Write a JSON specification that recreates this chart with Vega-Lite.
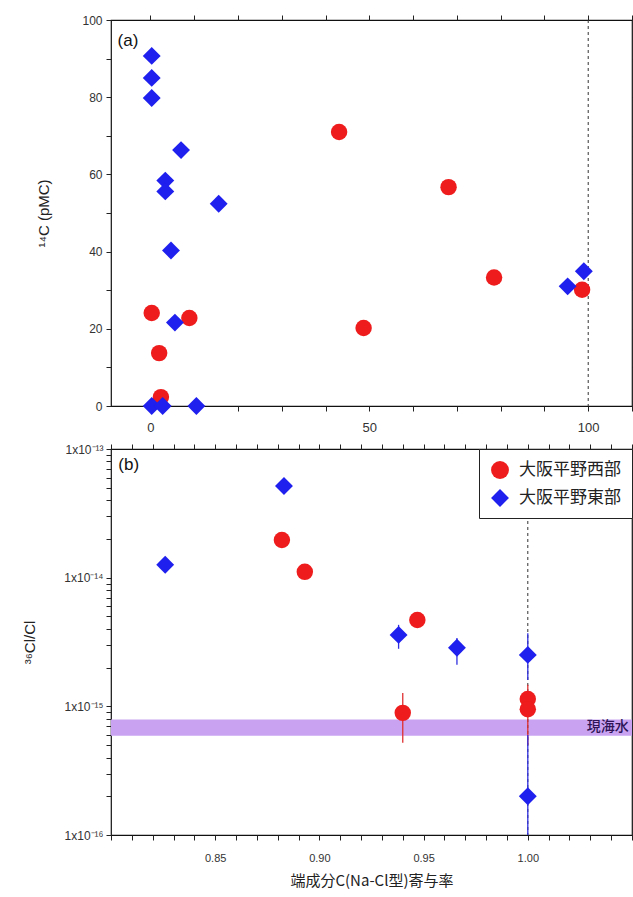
{
  "$schema": "https://vega.github.io/schema/vega-lite/v6.json",
  "background": "white",
  "padding": {"left": 22, "top": 13, "right": 0, "bottom": 5},
  "bounds": "flush",
  "spacing": 43,
  "config": {
    "view": {"stroke": "#111", "strokeWidth": 1.2},
    "font": "Liberation Sans",
    "axis": {"domain": false, "grid": false, "tickColor": "#222", "tickSize": 5, "labelColor": "#333", "labelFont": "Liberation Sans", "labelFontSize": 12, "titleFont": "Liberation Sans", "titleFontSize": 15, "titleFontWeight": "normal", "titleColor": "#222"}
  },
  "resolve": {"scale": {"color": "independent", "shape": "independent"}, "legend": {"color": "independent", "shape": "independent"}},
  "vconcat": [
    {
      "width": 521,
      "height": 386,
      "layer": [
        {
          "data": {"values": [{}]},
          "mark": {"type": "rule", "strokeDash": [3, 3], "color": "#333", "strokeWidth": 1},
          "encoding": {
            "x": {"datum": 100, "type": "quantitative", "scale": {"domain": [-9, 110], "nice": false, "zero": false},
              "axis": {"orient": "top", "labels": false, "title": null, "values": [-0.0001, 10, 20, 30, 40, 50, 60, 70, 80, 90, 100, 110]}}
          }
        },
        {
          "data": {"values": [{}]},
          "mark": {"type": "text", "text": "(a)", "align": "left", "baseline": "middle", "fontSize": 17, "color": "#111"},
          "encoding": {
            "x": {"datum": -7.5, "type": "quantitative", "axis": null},
            "y": {"datum": 94.5, "type": "quantitative", "scale": {"domain": [0, 100], "nice": false},
              "axis": {"orient": "right", "labels": false, "title": null, "values": [0, 10, 20, 30, 40, 50, 60, 70, 80, 90, 100]}}
          }
        },
        {
          "data": {"values": [
            {"x": 0.3, "c14": 24.1, "region": "大阪平野西部"},
            {"x": 2.0, "c14": 13.7, "region": "大阪平野西部"},
            {"x": 2.4, "c14": 2.3, "region": "大阪平野西部"},
            {"x": 8.9, "c14": 22.8, "region": "大阪平野西部"},
            {"x": 43.1, "c14": 71.0, "region": "大阪平野西部"},
            {"x": 48.7, "c14": 20.2, "region": "大阪平野西部"},
            {"x": 68.1, "c14": 56.7, "region": "大阪平野西部"},
            {"x": 78.5, "c14": 33.3, "region": "大阪平野西部"},
            {"x": 98.6, "c14": 30.1, "region": "大阪平野西部"},
            {"x": 0.3, "c14": 90.7, "region": "大阪平野東部"},
            {"x": 0.3, "c14": 85.0, "region": "大阪平野東部"},
            {"x": 0.3, "c14": 79.8, "region": "大阪平野東部"},
            {"x": 7.0, "c14": 66.3, "region": "大阪平野東部"},
            {"x": 3.4, "c14": 58.4, "region": "大阪平野東部"},
            {"x": 3.4, "c14": 55.6, "region": "大阪平野東部"},
            {"x": 15.6, "c14": 52.4, "region": "大阪平野東部"},
            {"x": 4.7, "c14": 40.3, "region": "大阪平野東部"},
            {"x": 5.6, "c14": 21.6, "region": "大阪平野東部"},
            {"x": 0.3, "c14": 0, "region": "大阪平野東部"},
            {"x": 2.8, "c14": 0, "region": "大阪平野東部"},
            {"x": 10.5, "c14": 0, "region": "大阪平野東部"},
            {"x": 95.3, "c14": 31.0, "region": "大阪平野東部"},
            {"x": 99.0, "c14": 34.9, "region": "大阪平野東部"}
          ]},
          "mark": {"type": "point", "filled": true, "opacity": 1},
          "encoding": {
            "x": {"field": "x", "type": "quantitative", "scale": {"domain": [-9, 110], "nice": false, "zero": false},
              "axis": {"orient": "bottom", "title": null, "values": [-0.0001, 10, 20, 30, 40, 50, 60, 70, 80, 90, 100, 110], "labelExpr": "abs(datum.value) < 0.01 ? '0' : (datum.value == 50 || datum.value == 100 ? datum.label : '')", "labelFontSize": 13, "labelPadding": 10}},
            "y": {"field": "c14", "type": "quantitative", "scale": {"domain": [0, 100], "nice": false},
              "axis": {"orient": "left", "title": "¹⁴C (pMC)", "values": [0, 10, 20, 30, 40, 50, 60, 70, 80, 90, 100], "labelExpr": "datum.value % 20 == 0 ? datum.label : ''", "labelPadding": 4, "titlePadding": 30}},
            "color": {"field": "region", "type": "nominal", "scale": {"domain": ["大阪平野西部", "大阪平野東部"], "range": ["#ee1c1c", "#1f1fee"]}, "legend": null},
            "shape": {"field": "region", "type": "nominal", "scale": {"domain": ["大阪平野西部", "大阪平野東部"], "range": ["circle", "diamond"]}, "legend": null},
            "size": {"field": "region", "type": "nominal", "scale": {"domain": ["大阪平野西部", "大阪平野東部"], "range": [270, 320]}, "legend": null}
          }
        }
      ],
      "resolve": {"axis": {"x": "independent", "y": "independent"}}
    },
    {
      "width": 521,
      "height": 386,
      "layer": [
        {
          "data": {"values": [{}]},
          "mark": {"type": "rect", "color": "#c9a3f2", "opacity": 1},
          "encoding": {
            "y": {"datum": 7.9e-16, "type": "quantitative", "scale": {"type": "log", "domain": [1e-16, 1e-13], "nice": false}, "axis": null},
            "y2": {"datum": 5.9e-16}
          }
        },
        {
          "data": {"values": [{}]},
          "mark": {"type": "text", "text": "現海水", "align": "right", "baseline": "middle", "fontSize": 14, "fontWeight": 500, "font": "Noto Sans CJK JP", "color": "#2e1456"},
          "encoding": {
            "x": {"datum": 1.0485, "type": "quantitative", "axis": null},
            "y": {"datum": 6.85e-16, "type": "quantitative", "axis": null}
          }
        },
        {
          "data": {"values": [{}]},
          "mark": {"type": "rule", "strokeDash": [3, 3], "color": "#333", "strokeWidth": 1},
          "encoding": {
            "x": {"datum": 1.0, "type": "quantitative", "scale": {"domain": [0.8, 1.05], "nice": false, "zero": false},
              "axis": {"orient": "top", "labels": false, "title": null, "values": [0.8, 0.81, 0.82, 0.83, 0.84, 0.85, 0.86, 0.87, 0.88, 0.89, 0.9, 0.91, 0.92, 0.93, 0.94, 0.95, 0.96, 0.97, 0.98, 0.99, 1.0, 1.01, 1.02, 1.03, 1.04, 1.05]}}
          }
        },
        {
          "data": {"values": [
            {"x": 0.940, "lo": 5.2e-16, "hi": 1.27e-15, "region": "大阪平野西部"},
            {"x": 1.000, "lo": 5.0e-16, "hi": 1.47e-15, "region": "大阪平野西部"},
            {"x": 0.938, "lo": 2.8e-15, "hi": 4.3e-15, "region": "大阪平野東部"},
            {"x": 0.966, "lo": 2.1e-15, "hi": 3.4e-15, "region": "大阪平野東部"},
            {"x": 1.000, "lo": 1.6e-15, "hi": 3.7e-15, "region": "大阪平野東部"},
            {"x": 1.000, "lo": 1.0e-16, "hi": 6.0e-16, "region": "大阪平野東部"}
          ]},
          "transform": [{"filter": "datum.region == '大阪平野西部'"}],
          "mark": {"type": "rule", "color": "#e03030", "strokeWidth": 1.3},
          "encoding": {
            "x": {"field": "x", "type": "quantitative", "axis": null},
            "y": {"field": "lo", "type": "quantitative", "axis": null},
            "y2": {"field": "hi"}
          }
        },
        {
          "data": {"values": [
            {"x": 0.940, "lo": 5.2e-16, "hi": 1.27e-15, "region": "大阪平野西部"},
            {"x": 1.000, "lo": 5.0e-16, "hi": 1.47e-15, "region": "大阪平野西部"},
            {"x": 0.938, "lo": 2.8e-15, "hi": 4.3e-15, "region": "大阪平野東部"},
            {"x": 0.966, "lo": 2.1e-15, "hi": 3.4e-15, "region": "大阪平野東部"},
            {"x": 1.000, "lo": 1.6e-15, "hi": 3.7e-15, "region": "大阪平野東部"},
            {"x": 1.000, "lo": 1.0e-16, "hi": 6.0e-16, "region": "大阪平野東部"}
          ]},
          "transform": [{"filter": "datum.region == '大阪平野東部'"}],
          "mark": {"type": "rule", "color": "#3030e0", "strokeWidth": 1.3},
          "encoding": {
            "x": {"field": "x", "type": "quantitative", "axis": null},
            "y": {"field": "lo", "type": "quantitative", "axis": null},
            "y2": {"field": "hi"}
          }
        },
        {
          "data": {"values": [
            {"x": 0.882, "ratio": 1.96e-14, "region": "大阪平野西部"},
            {"x": 0.893, "ratio": 1.11e-14, "region": "大阪平野西部"},
            {"x": 0.947, "ratio": 4.69e-15, "region": "大阪平野西部"},
            {"x": 0.940, "ratio": 8.9e-16, "region": "大阪平野西部"},
            {"x": 1.000, "ratio": 1.14e-15, "region": "大阪平野西部"},
            {"x": 1.000, "ratio": 9.5e-16, "region": "大阪平野西部"},
            {"x": 0.826, "ratio": 1.26e-14, "region": "大阪平野東部"},
            {"x": 0.883, "ratio": 5.16e-14, "region": "大阪平野東部"},
            {"x": 0.938, "ratio": 3.59e-15, "region": "大阪平野東部"},
            {"x": 0.966, "ratio": 2.85e-15, "region": "大阪平野東部"},
            {"x": 1.000, "ratio": 2.51e-15, "region": "大阪平野東部"},
            {"x": 1.000, "ratio": 2.0e-16, "region": "大阪平野東部"}
          ]},
          "mark": {"type": "point", "filled": true, "opacity": 1},
          "encoding": {
            "x": {"field": "x", "type": "quantitative", "scale": {"domain": [0.8, 1.05], "nice": false, "zero": false},
              "axis": {"orient": "bottom", "title": "端成分C(Na-Cl型)寄与率", "titleFont": "Noto Sans CJK JP", "titleFontSize": 15, "titlePadding": 10, "values": [0.8, 0.81, 0.82, 0.83, 0.84, 0.85, 0.86, 0.87, 0.88, 0.89, 0.9, 0.91, 0.92, 0.93, 0.94, 0.95, 0.96, 0.97, 0.98, 0.99, 1.0, 1.01, 1.02, 1.03, 1.04, 1.05], "format": ".2f", "labelExpr": "(abs(datum.value - 0.85) < 0.001 || abs(datum.value - 0.9) < 0.001 || abs(datum.value - 0.95) < 0.001 || abs(datum.value - 1.0) < 0.001) ? datum.label : ''", "labelFontSize": 11, "labelPadding": 12}},
            "y": {"field": "ratio", "type": "quantitative", "scale": {"type": "log", "domain": [1e-16, 1e-13], "nice": false},
              "axis": {"orient": "left", "title": "³⁶Cl/Cl", "titlePadding": 26, "labelFontSize": 12, "labelPadding": 3,
                "values": [1e-16, 2e-16, 3e-16, 4e-16, 5e-16, 6e-16, 7e-16, 8e-16, 9e-16, 1e-15, 2e-15, 3e-15, 4e-15, 5e-15, 6e-15, 7e-15, 8e-15, 9e-15, 1e-14, 2e-14, 3e-14, 4e-14, 5e-14, 6e-14, 7e-14, 8e-14, 9e-14, 1e-13],
                "labelExpr": "datum.value > 0.99e-13 ? '1x10⁻¹³' : (abs(datum.value - 1e-14) < 1e-17 ? '1x10⁻¹⁴' : (abs(datum.value - 1e-15) < 1e-18 ? '1x10⁻¹⁵' : (abs(datum.value - 1e-16) < 1e-19 ? '1x10⁻¹⁶' : '')))"}},
            "color": {"field": "region", "type": "nominal", "title": null, "scale": {"domain": ["大阪平野西部", "大阪平野東部"], "range": ["#ee1c1c", "#1f1fee"]},
              "legend": {"orient": "top-right", "offset": 0, "strokeColor": "#222", "fillColor": "white", "padding": 11, "labelFont": "Noto Sans CJK JP", "labelFontSize": 17, "labelColor": "#222", "symbolSize": 320, "rowPadding": 9, "labelOffset": 9}},
            "shape": {"field": "region", "type": "nominal", "title": null, "scale": {"domain": ["大阪平野西部", "大阪平野東部"], "range": ["circle", "diamond"]},
              "legend": {"orient": "top-right", "offset": 0, "strokeColor": "#222", "fillColor": "white", "padding": 11, "labelFont": "Noto Sans CJK JP", "labelFontSize": 17, "labelColor": "#222", "symbolSize": 320, "rowPadding": 9, "labelOffset": 9}},
            "size": {"field": "region", "type": "nominal", "scale": {"domain": ["大阪平野西部", "大阪平野東部"], "range": [270, 320]}, "legend": null}
          }
        },
        {
          "data": {"values": [{}]},
          "mark": {"type": "text", "text": "(b)", "align": "left", "baseline": "middle", "fontSize": 17, "color": "#111"},
          "encoding": {
            "x": {"datum": 0.8035, "type": "quantitative", "axis": null},
            "y": {"datum": 7.5e-14, "type": "quantitative", "axis": null}
          }
        }
      ],
      "resolve": {"axis": {"x": "independent", "y": "independent"}}
    }
  ]
}
